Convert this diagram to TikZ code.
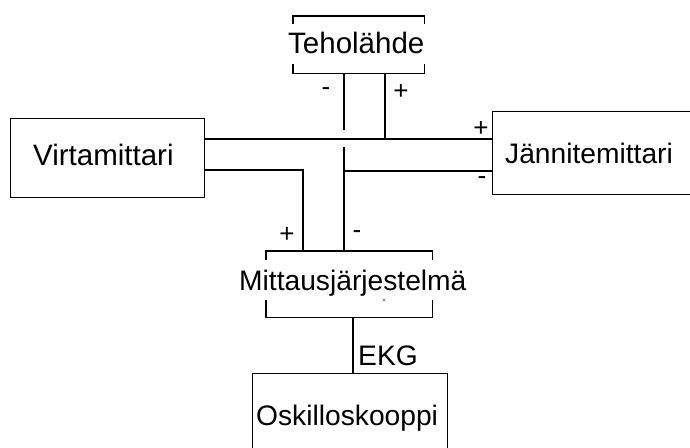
\documentclass[tikz,border=0pt]{standalone}
\usepackage{fontspec}
\setmainfont{Liberation Sans}
\begin{document}
\begin{tikzpicture}[x=1pt,y=-1pt,
  wire/.style={line width=1.4pt,black},
  box/.style={draw=black,line width=1.4pt,inner sep=0pt,fill=white},
  lbl/.style={inner sep=0pt,font=\fontsize{29.5}{33}\selectfont,text=black},
  lbls/.style={inner sep=0pt,font=\fontsize{28.2}{32}\selectfont,text=black},
  sign/.style={inner sep=0pt,font=\fontsize{26}{30}\selectfont,text=black}]
\useasboundingbox (0,0) rectangle (690,447);
\clip (0,0) rectangle (690,447);
% boxes
\node[box,minimum width=194pt,minimum height=79pt,anchor=north west] (virt) at (10,118) {};
\node[lbl,anchor=base west] (virtl) at (33,165) {Virtamittari};
\node[box,minimum width=230pt,minimum height=83pt,anchor=north west] (jann) at (492,111) {};
\node[lbls,anchor=base west] (jannl) at (505,163) {Jännitemittari};
\node[box,minimum width=195pt,minimum height=100pt,anchor=north west] (osk) at (252,373) {};
\node[lbls,anchor=base west] (oskl) at (256,425) {Oskilloskooppi};
% bracket nodes
\node[inner sep=0pt,minimum width=131pt,minimum height=57pt,anchor=north west] (teho) at (293,16) {};
\node[lbl,anchor=base west] (tehol) at (288,53) {Teholähde};
\draw[wire] ([yshift=-8pt]teho.north west) -- (teho.north west) -- (teho.north east) -- ([yshift=-8pt]teho.north east);
\draw[wire] ([yshift=9pt]teho.south west) -- (teho.south west) -- (teho.south east) -- ([yshift=9pt]teho.south east);
\node[inner sep=0pt,minimum width=166pt,minimum height=66pt,anchor=north west] (mitt) at (266,251) {};
\node[lbls,anchor=base west] (mittl) at (239,290) {Mittausjärjestelmä};
\draw[wire] ([yshift=-9pt]mitt.north west) -- (mitt.north west) -- (mitt.north east) -- ([yshift=-9pt]mitt.north east);
\draw[wire] ([yshift=17pt]mitt.south west) -- (mitt.south west) -- (mitt.south east) -- ([yshift=17pt]mitt.south east);
\fill (384,300) circle (0.9);
% connection points
\coordinate (gapA) at (344,130);
\coordinate (gapB) at (344,147);
\coordinate (jminus) at (344,171);
\coordinate (tplus) at (385,139);
% wires
\draw[wire] (teho.south -| gapA) -- (gapA);
\draw[wire] (gapB) -- (gapB |- mitt.north);
\draw[wire] (jminus) -- (jminus -| jann.west);
\draw[wire] (teho.south -| tplus) -- (tplus);
\draw[wire] (virt.east |- tplus) -- (tplus -| jann.west);
\draw[wire] (204,170) -- (303,170) -- (303,251);
\draw[wire] (353,317) -- (353,373);
% labels
\node[sign] (s1) at (326,92) {-};
\node[sign] (s2) at (401,92) {+};
\node[sign] (s3) at (481,129) {+};
\node[sign] (s4) at (482,181) {-};
\node[sign] (s5) at (287,235) {+};
\node[sign] (s6) at (357,235) {-};
\node[lbls,anchor=base west] (ekg) at (358,365) {EKG};
\end{tikzpicture}
\end{document}
